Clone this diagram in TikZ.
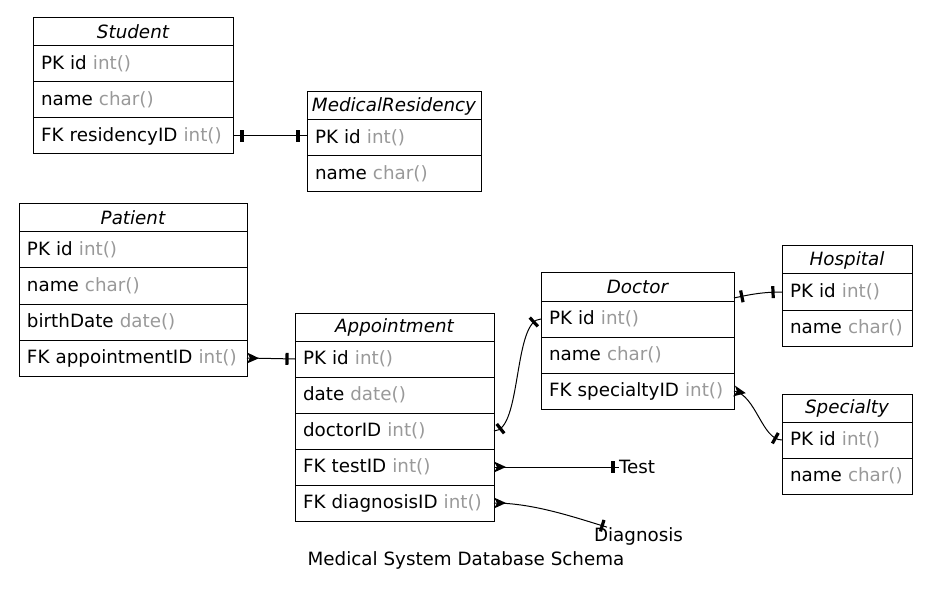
\documentclass[tikz,border=0pt]{standalone}
\usepackage{fontspec}
\setmainfont{DejaVu Sans}
\usetikzlibrary{positioning,decorations.markings}
\definecolor{typeGray}{RGB}{153,153,153}
\tikzstyle{diagram} = [x = 1pt, y = -1pt, line width = 1pt, every node/.style={font=\fontsize{18.3}{22}\selectfont}]
\tikzstyle{plainLabel} = [inner sep = 0pt, outer sep = 0pt]
\tikzset{
  tableTitle/.style = {draw, line width = 1pt, outer sep = 0pt, inner sep = 0pt, minimum width = #1, minimum height = 28pt, font=\fontsize{18.3}{22}\selectfont\itshape},
  tableRow/.style = {draw, line width = 1pt, outer sep = 0pt, inner xsep = 8pt, inner ysep = 0pt, text width = #1, minimum height = 36pt, align = left},
  teeStart/.style = {postaction={decorate, decoration={markings, mark=at position #1 with {\teeBar}}}},
  teeStart/.default = 9pt,
  teeEnd/.style = {postaction={decorate, decoration={markings, mark=at position -#1 with {\teeBar}}}},
  teeEnd/.default = 9pt,
  crowStart/.style = {postaction={decorate, decoration={markings, mark=at position 0.01pt with {\crowFoot}}}}
}
\newcommand{\teeBar}{\fill (-1.6pt,-6pt) rectangle (1.6pt,6pt);}
\newcommand{\crowFoot}{\fill (0pt,-5.5pt) -- (12pt,0pt) -- (0pt,5.5pt) -- (3pt,0pt) -- cycle;}
\newcommand{\field}[2]{\mbox{#1 \textcolor{typeGray}{#2}}}

\begin{document}
\begin{tikzpicture}[diagram]
  \useasboundingbox (0,0) rectangle (932,596);

  % Student
  \node [tableTitle = 200pt, anchor = north west] (studentTitle) at (33,18) {Student};
  \node [tableRow = 184pt, below = 0pt of studentTitle] (studentId) {\field{PK id}{int()}};
  \node [tableRow = 184pt, below = 0pt of studentId] (studentName) {\field{name}{char()}};
  \node [tableRow = 184pt, below = 0pt of studentName] (studentResidency) {\field{FK residencyID}{int()}};

  % MedicalResidency
  \node [tableTitle = 174pt, anchor = north west] (medResTitle) at (307,92) {MedicalResidency};
  \node [tableRow = 158pt, below = 0pt of medResTitle] (medResId) {\field{PK id}{int()}};
  \node [tableRow = 158pt, below = 0pt of medResId] (medResName) {\field{name}{char()}};

  % Patient
  \node [tableTitle = 228pt, anchor = north west] (patientTitle) at (19,204) {Patient};
  \node [tableRow = 212pt, below = 0pt of patientTitle] (patientId) {\field{PK id}{int()}};
  \node [tableRow = 212pt, below = 0pt of patientId] (patientName) {\field{name}{char()}};
  \node [tableRow = 212pt, below = 0pt of patientName] (patientBirth) {\field{birthDate}{date()}};
  \node [tableRow = 212pt, below = 0pt of patientBirth] (patientAppt) {\field{FK appointmentID}{int()}};

  % Appointment
  \node [tableTitle = 199pt, anchor = north west] (apptTitle) at (295,313) {Appointment};
  \node [tableRow = 183pt, below = 0pt of apptTitle] (apptId) {\field{PK id}{int()}};
  \node [tableRow = 183pt, below = 0pt of apptId] (apptDate) {\field{date}{date()}};
  \node [tableRow = 183pt, below = 0pt of apptDate] (apptDoctor) {\field{doctorID}{int()}};
  \node [tableRow = 183pt, below = 0pt of apptDoctor] (apptTest) {\field{FK testID}{int()}};
  \node [tableRow = 183pt, below = 0pt of apptTest] (apptDiag) {\field{FK diagnosisID}{int()}};

  % Doctor
  \node [tableTitle = 193pt, anchor = north west] (doctorTitle) at (541,273) {Doctor};
  \node [tableRow = 177pt, below = 0pt of doctorTitle] (doctorId) {\field{PK id}{int()}};
  \node [tableRow = 177pt, below = 0pt of doctorId] (doctorName) {\field{name}{char()}};
  \node [tableRow = 177pt, below = 0pt of doctorName] (doctorSpecialty) {\field{FK specialtyID}{int()}};

  % Hospital
  \node [tableTitle = 130pt, anchor = north west] (hospitalTitle) at (782,246) {Hospital};
  \node [tableRow = 114pt, below = 0pt of hospitalTitle] (hospitalId) {\field{PK id}{int()}};
  \node [tableRow = 114pt, below = 0pt of hospitalId] (hospitalName) {\field{name}{char()}};

  % Specialty
  \node [tableTitle = 130pt, anchor = north west] (specialtyTitle) at (782,394) {Specialty};
  \node [tableRow = 114pt, below = 0pt of specialtyTitle] (specialtyId) {\field{PK id}{int()}};
  \node [tableRow = 114pt, below = 0pt of specialtyId] (specialtyName) {\field{name}{char()}};

  % loose labels
  \node [plainLabel, anchor = west] (testLabel) at (619,467) {Test};
  \node [plainLabel, anchor = west] (diagLabel) at (594,536) {Diagnosis};
  \node [plainLabel] (caption) at (466,560) {Medical System Database Schema};

  % relations
  \draw [teeStart, teeEnd] (studentResidency.east) -- (studentResidency.east -| medResId.west);
  \draw [crowStart, teeEnd = 8pt] (patientAppt.east) -- (apptId.west);
  \draw [teeStart = 7pt, teeEnd = 8pt] (apptDoctor.east) .. controls +(28,0) and +(-28,0) .. (doctorId.west);
  \draw [crowStart, teeEnd = 6pt] (apptTest.east) -- (testLabel.west);
  \draw [crowStart, teeEnd = 5pt] (apptDiag.east) .. controls +(40,0) and +(-30,-9) .. ([xshift=13pt]diagLabel.north west);
  \draw [teeStart = 8pt, teeEnd] ([yshift=3pt]doctorTitle.south east) .. controls +(18,-4) and +(-18,0) .. (hospitalId.west);
  \draw [crowStart, teeEnd = 7pt] (doctorSpecialty.east) .. controls +(22,4) and +(-20,0) .. (specialtyId.west);
\end{tikzpicture}
\end{document}
